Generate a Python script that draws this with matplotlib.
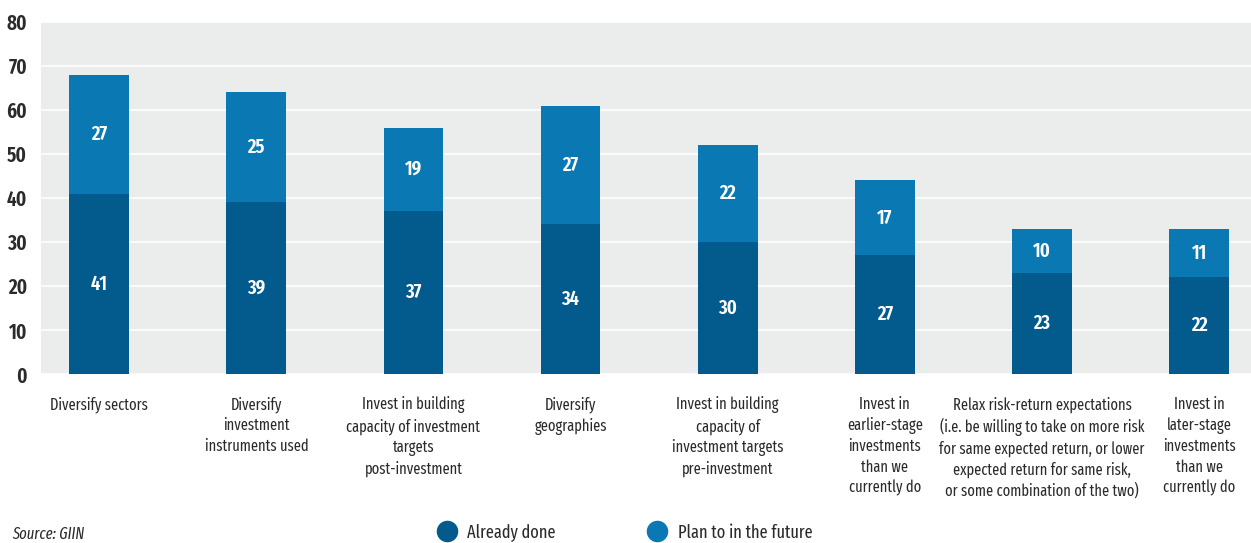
import matplotlib.pyplot as plt
import numpy as np
from matplotlib import font_manager

categories = [
    "Diversify sectors",
    "Diversify\ninvestment\ninstruments used",
    "Invest in building\ncapacity of investment\ntargets\npost-investment",
    "Diversify\ngeographies",
    "Invest in building\ncapacity of\ninvestment targets\npre-investment",
    "Invest in\nearlier-stage\ninvestments\nthan we\ncurrently do",
    "Relax risk-return expectations\n(i.e. be willing to take on more risk\n"
    "for same expected return, or lower\nexpected return for same risk,\n"
    "or some combination of the two)",
    "Invest in\nlater-stage\ninvestments\nthan we\ncurrently do",
]
already_done = [41, 39, 37, 34, 30, 27, 23, 22]
plan_future = [27, 25, 19, 27, 22, 17, 10, 11]
y_ticks = [0, 10, 20, 30, 40, 50, 60, 70, 80]

# pick a condensed font if there is one
names = {f.name for f in font_manager.fontManager.ttflist}
font = "DejaVu Sans"
for cand in ["Fira Sans Extra Condensed", "Barlow Condensed", "PT Sans Narrow",
             "Roboto Condensed", "Archivo Narrow"]:
    if cand in names:
        font = cand
        break
plt.rcParams["font.family"] = [font, "DejaVu Sans"]

dark = "#035b8d"
light = "#0a79b3"
text_col = "#2b2b2b"

fig = plt.figure(figsize=(12.51, 5.43), dpi=100)
ax = fig.add_axes([0.0328, 0.311, 0.9672, 0.6485])
ax.set_facecolor("#ebecec")

x = np.arange(len(categories))
w = 0.38
ax.bar(x, already_done, w, color=dark, zorder=3)
ax.bar(x, plan_future, w, bottom=already_done, color=light, zorder=3)

for i in range(len(x)):
    ax.text(x[i], already_done[i] / 2, str(already_done[i]), ha="center", va="center",
            color="white", fontsize=14.5, fontweight="semibold", zorder=4)
    ax.text(x[i], already_done[i] + plan_future[i] / 2, str(plan_future[i]), ha="center",
            va="center", color="white", fontsize=14.5, fontweight="semibold", zorder=4)

ax.set_xlim(-0.37, 7.33)
ax.set_ylim(0, 80)
ax.set_yticks(y_ticks)
ax.set_yticklabels([str(t) for t in y_ticks], fontsize=15, fontweight="semibold", color=text_col)
ax.grid(axis="y", color="white", linewidth=1.2, zorder=1)
ax.set_xticks(x)
ax.set_xticklabels(categories, fontsize=11.3, color=text_col, linespacing=1.36, va="top")
ax.tick_params(axis="both", length=0)
ax.tick_params(axis="x", pad=16)
ax.tick_params(axis="y", pad=10)
for s in ax.spines.values():
    s.set_visible(False)

# source and legend along the bottom
fig.text(0.0096, 0.008, "Source: GIIN", fontsize=11.5, style="italic", color=text_col)
ax_leg = fig.add_axes([0, 0, 1, 1], facecolor="none")
ax_leg.set_xlim(0, 1251)
ax_leg.set_ylim(543, 0)
ax_leg.axis("off")
ax_leg.scatter([447], [531], s=210, color=dark)
ax_leg.scatter([657], [531], s=210, color=light)
ax_leg.text(467, 533, "Already done", fontsize=12.8, color=text_col, va="center")
ax_leg.text(678, 533, "Plan to in the future", fontsize=12.8, color=text_col, va="center")

plt.savefig("out.png", dpi=100)
plt.close()
